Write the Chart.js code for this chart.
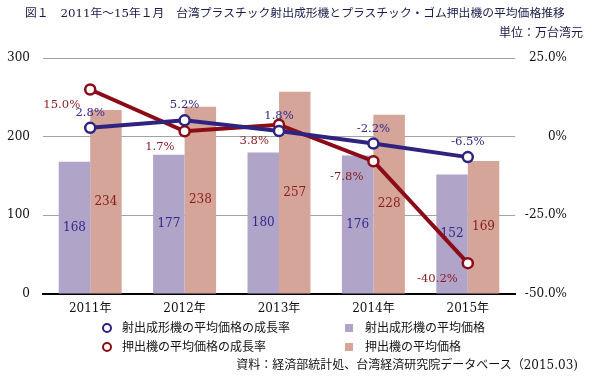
<!DOCTYPE html>
<html>
<head>
<meta charset="utf-8">
<script src="https://cdn.jsdelivr.net/npm/chart.js@4/dist/chart.umd.min.js"></script>
<style>
  html, body { margin:0; padding:0; background:#fff; }
  #wrap { position:relative; width:595px; height:379px; overflow:hidden; }
  #c { position:absolute; left:0; top:0; }
  .txt { position:absolute; font-family:'DejaVu Serif','Noto Sans CJK JP',serif; font-size:12px; line-height:16px; white-space:nowrap; color:#111; }
  .title { color:#1b1b4b; }
  .mk-circle { position:absolute; width:6px; height:6px; border-radius:50%; background:#fff; border-style:solid; border-width:2.5px; }
  .mk-square { position:absolute; width:8px; height:8px; }
</style>
</head>
<body>
<div id="wrap">
  <canvas id="c" width="595" height="379"></canvas>
  <div class="txt title" id="title" style="left:25px; top:5px; font-size:11.8px;"></div>
  <div class="txt title" id="unit" style="right:12px; top:25px;"></div>
  <div id="legend"></div>
  <div class="txt" id="source" style="right:17px; top:357px;"></div>
</div>
<script>
// ---- data ----
const titleText = '図１　2011年～15年１月　台湾プラスチック射出成形機とプラスチック・ゴム押出機の平均価格推移';
const unitText = '単位：万台湾元';
const sourceText = '資料：経済部統計処、台湾経済研究院データベース（2015.03)';
const categories = ['2011年', '2012年', '2013年', '2014年', '2015年'];
const seriesNames = ['射出成形機の平均価格の成長率', '押出機の平均価格の成長率', '射出成形機の平均価格', '押出機の平均価格'];
const injectionGrowth = [2.8, 5.2, 1.8, -2.2, -6.5];
const extruderGrowth = [15.0, 1.7, 3.8, -7.8, -40.2];
const injectionPrice = [168, 177, 180, 176, 152];
const extruderPrice = [234, 238, 257, 228, 169];
const leftTickValues = [0, 100, 200, 300];
const rightTickValues = [-50, -25, 0, 25];
const rightTickLabels = ['-50.0%', '-25.0%', '0%', '25.0%'];

// ---- styles ----
const BLUE = '#2f2382';
const RED = '#8b0c16';
const PURPLE = '#b0a4c8';
const SALMON = '#d4a598';
const BLUE_TXT = '#33288a';
const RED_TXT = '#8a1a1e';
const FONT = "'DejaVu Serif','Noto Sans CJK JP',serif";

document.getElementById('title').textContent = titleText;
document.getElementById('unit').textContent = unitText;
document.getElementById('source').textContent = sourceText;

// legend (HTML)
const legend = document.getElementById('legend');
const legendItems = [
  {name: seriesNames[0], type: 'circle', color: BLUE, x: 107, y: 328, tx: 122},
  {name: seriesNames[1], type: 'circle', color: RED, x: 107, y: 347, tx: 122},
  {name: seriesNames[2], type: 'square', color: PURPLE, x: 349, y: 328, tx: 365},
  {name: seriesNames[3], type: 'square', color: SALMON, x: 349, y: 347, tx: 365}
];
legendItems.forEach(it => {
  const m = document.createElement('div');
  if (it.type === 'circle') {
    m.className = 'mk-circle';
    m.style.borderColor = it.color;
    m.style.left = (it.x - 5.5) + 'px';
    m.style.top = (it.y - 5.5) + 'px';
  } else {
    m.className = 'mk-square';
    m.style.background = it.color;
    m.style.left = (it.x - 4) + 'px';
    m.style.top = (it.y - 4) + 'px';
  }
  legend.appendChild(m);
  const t = document.createElement('div');
  t.className = 'txt';
  t.textContent = it.name;
  t.style.left = it.tx + 'px';
  t.style.top = (it.y - 8) + 'px';
  legend.appendChild(t);
});

const fmtPct = v => v.toFixed(1) + '%';

const labelPlugin = {
  id: 'valueLabels',
  afterDatasetDraw(chart, args) {
    const ds = chart.data.datasets[args.index];
    if (ds.type !== 'bar') return;
    const ctx = chart.ctx;
    const meta = args.meta;
    ctx.save();
    ctx.font = '12px ' + FONT;
    ctx.fillStyle = ds.labelColor;
    ctx.textAlign = 'center';
    ctx.textBaseline = 'middle';
    meta.data.forEach((el, j) => {
      const cy = (el.y + el.base) / 2;
      ctx.fillText(String(ds.data[j]), el.x, cy);
    });
    ctx.restore();
  },
  afterDatasetsDraw(chart) {
    const ctx = chart.ctx;
    ctx.save();
    ctx.font = '11.6px ' + FONT;
    chart.data.datasets.forEach((ds, i) => {
      if (ds.type !== 'line') return;
      const meta = chart.getDatasetMeta(i);
      ctx.fillStyle = ds.labelColor;
      ctx.textBaseline = 'middle';
      meta.data.forEach((el, j) => {
        const txt = fmtPct(ds.data[j]);
        if (ds.labelPos === 'above') {
          ctx.textAlign = 'center';
          ctx.fillText(txt, el.x, el.y - 15);
        } else {
          ctx.textAlign = 'right';
          ctx.fillText(txt, el.x - 10, el.y + 16);
        }
      });
    });
    ctx.restore();
  }
};

new Chart(document.getElementById('c'), {
  data: {
    labels: categories,
    datasets: [
      {
        type: 'line', label: seriesNames[0], data: injectionGrowth, yAxisID: 'y1', order: 0,
        borderColor: BLUE, borderWidth: 4, pointRadius: 5, pointBorderWidth: 2.5,
        pointBackgroundColor: '#fff', pointBorderColor: BLUE, tension: 0,
        labelColor: BLUE_TXT, labelPos: 'above'
      },
      {
        type: 'line', label: seriesNames[1], data: extruderGrowth, yAxisID: 'y1', order: 1,
        borderColor: RED, borderWidth: 4, pointRadius: 5, pointBorderWidth: 2.5,
        pointBackgroundColor: '#fff', pointBorderColor: RED, tension: 0,
        labelColor: RED_TXT, labelPos: 'below-left'
      },
      {
        type: 'bar', label: seriesNames[2], data: injectionPrice, yAxisID: 'y', order: 2,
        backgroundColor: PURPLE, borderWidth: 0, categoryPercentage: 0.667, barPercentage: 1.0,
        labelColor: BLUE_TXT
      },
      {
        type: 'bar', label: seriesNames[3], data: extruderPrice, yAxisID: 'y', order: 3,
        backgroundColor: SALMON, borderWidth: 0, categoryPercentage: 0.667, barPercentage: 1.0,
        labelColor: RED_TXT
      }
    ]
  },
  options: {
    responsive: false,
    animation: false,
    devicePixelRatio: 1,
    layout: { padding: { top: 58, right: 28, bottom: 0, left: 0 } },
    plugins: { legend: { display: false }, tooltip: { enabled: false }, title: { display: false } },
    scales: {
      x: {
        grid: { display: false },
        border: { display: true, color: '#000', width: 2 },
        ticks: { color: '#111', font: { family: FONT, size: 12 }, padding: 0 },
        afterFit: s => { s.height = 85; }
      },
      y: {
        position: 'left', min: 0, max: 300,
        afterBuildTicks: s => { s.ticks = leftTickValues.map(v => ({value: v})); },
        grid: { color: ctx => ctx.tick && ctx.tick.value === 0 ? 'rgba(0,0,0,0)' : '#a3a3a3', lineWidth: 1, drawTicks: false },
        border: { display: false },
        ticks: { color: '#111', font: { family: FONT, size: 12 }, padding: 13 },
        afterFit: s => { s.width = 43; }
      },
      y1: {
        position: 'right', min: -50, max: 25,
        afterBuildTicks: s => { s.ticks = rightTickValues.map(v => ({value: v})); },
        grid: { display: false, drawTicks: false },
        border: { display: false },
        ticks: {
          color: '#111', font: { family: FONT, size: 12 }, crossAlign: 'far',
          callback: v => rightTickLabels[rightTickValues.indexOf(v)]
        },
        afterFit: s => { s.width = 52; }
      }
    }
  },
  plugins: [labelPlugin]
});
</script>
</body>
</html>
